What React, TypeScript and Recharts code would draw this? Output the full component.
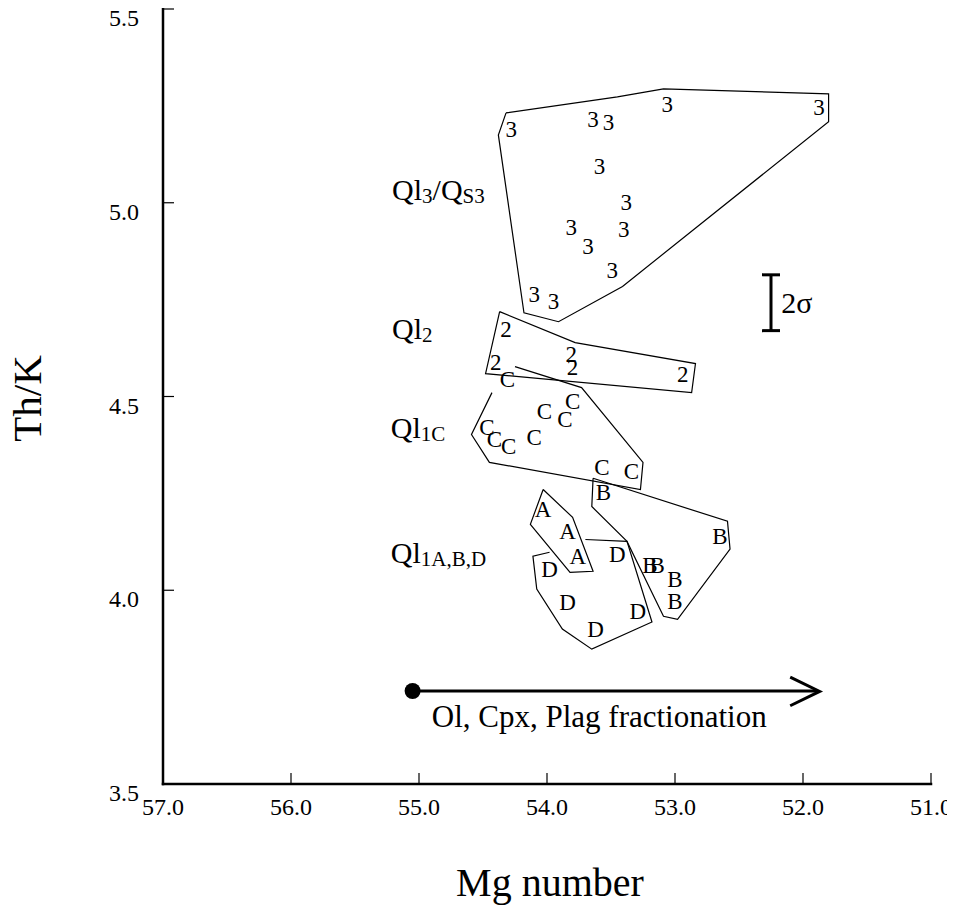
import React from "react";
import { ScatterChart, Scatter, XAxis, YAxis, ErrorBar } from "recharts";

type Pt = [number, number];

const FONT = '"Liberation Serif", "Times New Roman", serif';

const xTicks = [57, 56, 55, 54, 53, 52, 51];
const yTicks = [3.5, 4.0, 4.5, 5.0, 5.5];

// samples, [Mg number, Th/K]
const samples3: Pt[] = [
  [54.28, 5.188], [53.64, 5.214], [53.52, 5.206], [53.06, 5.253], [51.875, 5.245],
  [53.59, 5.093], [53.38, 5.0], [53.81, 4.936], [53.4, 4.93], [53.68, 4.887],
  [53.49, 4.825], [54.1, 4.763], [53.95, 4.745],
];
const samples2: Pt[] = [
  [54.32, 4.673], [54.4, 4.588], [53.81, 4.608], [53.8, 4.575], [52.94, 4.557],
];
const samplesC: Pt[] = [
  [54.31, 4.544], [54.02, 4.461], [53.8, 4.487], [53.86, 4.441], [54.47, 4.42],
  [54.41, 4.389], [54.3, 4.371], [54.1, 4.394], [53.57, 4.317], [53.34, 4.307],
];
const samplesA: Pt[] = [
  [54.03, 4.209], [53.84, 4.152], [53.76, 4.088],
];
const samplesB: Pt[] = [
  [53.56, 4.253], [52.65, 4.139], [53.195, 4.064], [53.14, 4.064], [53.0, 4.028], [53.0, 3.972],
];
const samplesD: Pt[] = [
  [53.98, 4.054], [53.45, 4.093], [53.84, 3.969], [53.29, 3.946], [53.62, 3.9],
];

// field outlines (closed)
const field3: Pt[] = [
  [54.32, 5.232], [54.38, 5.175], [54.18, 4.716], [53.91, 4.693], [53.41, 4.784],
  [51.8, 5.209], [51.8, 5.281], [53.09, 5.294], [53.45, 5.273],
];
const field2: Pt[] = [
  [54.37, 4.719], [54.48, 4.559], [52.87, 4.51], [52.84, 4.585], [53.78, 4.639],
];
const fieldA: Pt[] = [
  [54.03, 4.26], [54.13, 4.17], [53.82, 4.046], [53.64, 4.049], [53.8, 4.188],
];
const fieldB: Pt[] = [
  [53.64, 4.289], [53.65, 4.216], [53.375, 4.126], [53.09, 3.933], [52.98, 3.925],
  [52.57, 4.106], [52.59, 4.178],
];
// field outlines left open where a symbol or the A field hides them
const fieldC: Pt[] = [
  [54.25, 4.577], [53.73, 4.523], [53.25, 4.33], [53.27, 4.26], [54.45, 4.33],
  [54.59, 4.402], [54.43, 4.51],
];
const fieldD: Pt[] = [
  [53.7, 4.131], [53.375, 4.126], [53.18, 3.918], [53.65, 3.848], [53.88, 3.9],
  [54.08, 4.003], [54.11, 4.088], [53.98, 4.098],
];

// fractionation trend arrow
const trendLine: Pt[] = [[55.05, 3.74], [51.89, 3.74]];
const trendHead: Pt[] = [[52.1, 3.776], [51.87, 3.739], [52.1, 3.702]];
const trendStart: Pt[] = [[55.05, 3.74]];

// analytical uncertainty bar
const sigmaBar = [{ x: 52.25, y: 4.742, err: 0.072 }];

const groupLabels: { x: number; y: number; parts: [string, boolean][] }[] = [
  { x: 55.21, y: 5.008, parts: [["Ql", false], ["3", true], ["/Q", false], ["S3", true]] },
  { x: 55.21, y: 4.648, parts: [["Ql", false], ["2", true]] },
  { x: 55.22, y: 4.394, parts: [["Ql", false], ["1C", true]] },
  { x: 55.22, y: 4.07, parts: [["Ql", false], ["1A,B,D", true]] },
];

const textNotes = [
  { x: 52.17, y: 4.742, text: "2σ", size: 30, middle: true },
  { x: 54.9, y: 3.647, text: "Ol, Cpx, Plag fractionation", size: 31, middle: false },
];

const rows = (pts: Pt[]) => pts.map(([x, y]) => ({ x, y }));
const closed = (pts: Pt[]) => rows([...pts, pts[0]]);

const none = () => <g />;

const letter = (ch: string) => (p: any) => (
  <text x={p.cx} y={p.cy + 7.5} textAnchor="middle" fontSize={23} fontFamily={FONT} fill="#000">
    {ch}
  </text>
);

const GroupLabel = (p: any) => {
  const parts: [string, boolean][] = p.payload.parts;
  let prevSub = false;
  return (
    <text x={p.cx} y={p.cy} fontFamily={FONT} fontSize={30} fill="#000">
      {parts.map(([t, sub], i) => {
        const dy = sub === prevSub ? 0 : sub ? 3 : -3;
        prevSub = sub;
        return (
          <tspan key={i} dy={dy} fontSize={sub ? 21 : 30}>
            {t}
          </tspan>
        );
      })}
    </text>
  );
};

const Note = (p: any) => (
  <text
    x={p.cx}
    y={p.payload.middle ? p.cy + p.payload.size * 0.33 : p.cy}
    fontFamily={FONT}
    fontSize={p.payload.size}
    fill="#000"
  >
    {p.payload.text}
  </text>
);

const Dot = (p: any) => <circle cx={p.cx} cy={p.cy} r={8} fill="#000" />;

const BottomTick = ({ x, y, payload }: any) => (
  <g>
    <line x1={x} x2={x} y1={y} y2={y - 11} stroke="#000" strokeWidth={1.2} />
    <text x={x} y={y + 31} textAnchor="middle" fontSize={24} fontFamily={FONT} fill="#000">
      {Number(payload.value).toFixed(1)}
    </text>
  </g>
);
const TopTick = ({ x, y }: any) => (
  <line x1={x} x2={x} y1={y} y2={y + 11} stroke="#000" strokeWidth={1.2} />
);
const LeftTick = ({ x, y, payload }: any) => (
  <g>
    <line x1={x} x2={x + 11} y1={y} y2={y} stroke="#000" strokeWidth={1.2} />
    <text x={x - 24} y={y + 17} textAnchor="end" fontSize={24} fontFamily={FONT} fill="#000">
      {Number(payload.value).toFixed(1)}
    </text>
  </g>
);
const RightTick = ({ x, y }: any) => (
  <line x1={x} x2={x - 11} y1={y} y2={y} stroke="#000" strokeWidth={1.2} />
);

const frame = { stroke: "#000", strokeWidth: 2.5, strokeLinecap: "square" as const };
const outline = { stroke: "#000", strokeWidth: 1.2 };

export default function App() {
  const groups: [Pt[], string][] = [
    [samples3, "3"],
    [samples2, "2"],
    [samplesC, "C"],
    [samplesA, "A"],
    [samplesB, "B"],
    [samplesD, "D"],
  ];
  const closedFields = [field3, field2, fieldA, fieldB];
  const openFields = [fieldC, fieldD];

  return (
    <div style={{ fontFamily: FONT, margin: "-8px 0 0 -8px" }}>
      <ScatterChart width={955} height={908} margin={{ top: 9, right: 24, bottom: 0, left: 0 }}>
        <XAxis
          dataKey="x"
          type="number"
          domain={[51, 57]}
          reversed
          ticks={xTicks}
          interval={0}
          height={124}
          tickSize={0}
          tickMargin={0}
          tick={BottomTick}
          axisLine={frame}
          label={{
            content: ({ viewBox }: any) => (
              <text
                x={viewBox.x + viewBox.width / 2 + 3}
                y={viewBox.y + 112}
                textAnchor="middle"
                fontSize={40}
                fontFamily={FONT}
                fill="#000"
              >
                Mg number
              </text>
            ),
          }}
        />
        <XAxis
          xAxisId="top"
          orientation="top"
          type="number"
          domain={[51, 57]}
          reversed
          ticks={xTicks}
          interval={0}
          height={0}
          tickSize={0}
          tickMargin={0}
          tick={TopTick}
          axisLine={frame}
        />
        <YAxis
          dataKey="y"
          type="number"
          domain={[3.5, 5.5]}
          ticks={yTicks}
          interval={0}
          width={163}
          tickSize={0}
          tickMargin={0}
          tick={LeftTick}
          axisLine={frame}
          label={{
            content: ({ viewBox }: any) => {
              const cx = 41;
              const cy = viewBox.y + viewBox.height / 2 + 2;
              return (
                <text
                  x={cx}
                  y={cy}
                  transform={`rotate(-90 ${cx} ${cy})`}
                  textAnchor="middle"
                  fontSize={41}
                  fontFamily={FONT}
                  fill="#000"
                >
                  Th/K
                </text>
              );
            },
          }}
        />
        <YAxis
          yAxisId="right"
          orientation="right"
          type="number"
          domain={[3.5, 5.5]}
          ticks={yTicks}
          interval={0}
          width={0}
          tickSize={0}
          tickMargin={0}
          tick={RightTick}
          axisLine={frame}
        />

        {closedFields.map((f, i) => (
          <Scatter
            key={`field-${i}`}
            data={closed(f)}
            line={outline}
            lineType="joint"
            shape={none}
            isAnimationActive={false}
          />
        ))}
        {openFields.map((f, i) => (
          <Scatter
            key={`open-${i}`}
            data={rows(f)}
            line={outline}
            lineType="joint"
            shape={none}
            isAnimationActive={false}
          />
        ))}

        {groups.map(([pts, ch]) => (
          <Scatter key={`pts-${ch}`} data={rows(pts)} shape={letter(ch)} isAnimationActive={false} />
        ))}

        <Scatter
          data={rows(trendLine)}
          line={{ stroke: "#000", strokeWidth: 3 }}
          lineType="joint"
          shape={none}
          isAnimationActive={false}
        />
        <Scatter
          data={rows(trendHead)}
          line={{ stroke: "#000", strokeWidth: 3, strokeLinejoin: "miter" }}
          lineType="joint"
          shape={none}
          isAnimationActive={false}
        />
        <Scatter data={rows(trendStart)} shape={Dot} isAnimationActive={false} />

        <Scatter data={sigmaBar} shape={none} isAnimationActive={false}>
          <ErrorBar dataKey="err" direction="y" width={9} strokeWidth={3} stroke="#000" />
        </Scatter>

        <Scatter data={groupLabels} shape={GroupLabel} isAnimationActive={false} />
        <Scatter data={textNotes} shape={Note} isAnimationActive={false} />
      </ScatterChart>
    </div>
  );
}
